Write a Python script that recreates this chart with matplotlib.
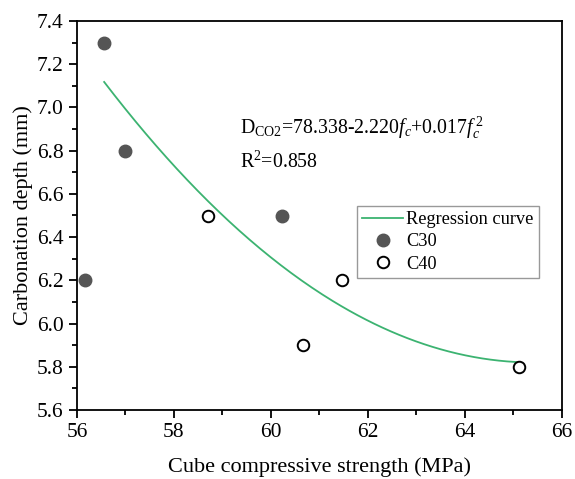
import numpy as np
import matplotlib.pyplot as plt
from matplotlib.ticker import MultipleLocator

plt.rcParams['font.family'] = ['Liberation Serif', 'DejaVu Serif']
plt.rcParams['mathtext.fontset'] = 'custom'
plt.rcParams['mathtext.rm'] = 'Liberation Serif'
plt.rcParams['mathtext.it'] = 'Liberation Serif:italic'

# data
c30_strength = [56.56, 56.99, 56.16, 60.23]
c30_depth = [7.3, 6.8, 6.2, 6.5]
c40_strength = [58.70, 60.66, 61.46, 65.12]
c40_depth = [6.5, 5.9, 6.2, 5.8]

# points
curve_x = [56.56, 58.85, 60.01, 60.19, 62.70, 64.99]
curve_y = [7.119, 6.540, 6.297, 6.263, 5.956, 5.818]

fig = plt.figure(figsize=(5.75, 4.79), dpi=100)
ax = fig.add_axes([77 / 575, 1 - 410 / 479, 485 / 575, 389 / 479])

# quadratic regression through the read curve points
p = np.polyfit(curve_x, curve_y, 2)
xs = np.linspace(curve_x[0], 65.08, 200)
ax.plot(xs, np.polyval(p, xs), color='#3cb371', lw=1.3, label='Regression curve')

ax.plot(c30_strength, c30_depth, 'o', ms=9, color='#555555', mec='#555555',
        label='C30', ls='none')
ax.plot(c40_strength, c40_depth, 'o', ms=8.3, mfc='white', mec='black', mew=1.4,
        label='C40', ls='none')

ax.set_xlim(56, 66)
ax.set_ylim(5.6, 7.4)
ax.xaxis.set_major_locator(MultipleLocator(2))
ax.xaxis.set_minor_locator(MultipleLocator(1))
ax.yaxis.set_major_locator(MultipleLocator(0.2))
ax.yaxis.set_minor_locator(MultipleLocator(0.1))
ax.tick_params(which='major', direction='out', length=6, width=1.3, labelsize=15.5)
ax.tick_params(which='minor', direction='out', length=3.5, width=1.3)
for s in ax.spines.values():
    s.set_linewidth(1.3)

ax.set_xlabel('Cube compressive strength (MPa)', fontsize=16, labelpad=11)
ax.set_ylabel('Carbonation depth (mm)', fontsize=16, labelpad=3)

ax.text(59.36, 6.905, r'D$_{\mathrm{CO2}}$=78.338-2.220$f_c$+0.017$f_c^{\,2}$',
        fontsize=14.3, va='center')
ax.text(59.36, 6.745, r'R$^2$=0.858', fontsize=14.3, va='center')

leg = ax.legend(loc='upper left', bbox_to_anchor=(0.577, 0.525), fontsize=13.2,
                frameon=True, fancybox=False, edgecolor='#808080',
                handlelength=2.2, borderpad=0.3, labelspacing=0.28,
                handletextpad=0.2, borderaxespad=0)
leg.get_frame().set_linewidth(1.0)

fig.savefig('out.png', dpi=100)
